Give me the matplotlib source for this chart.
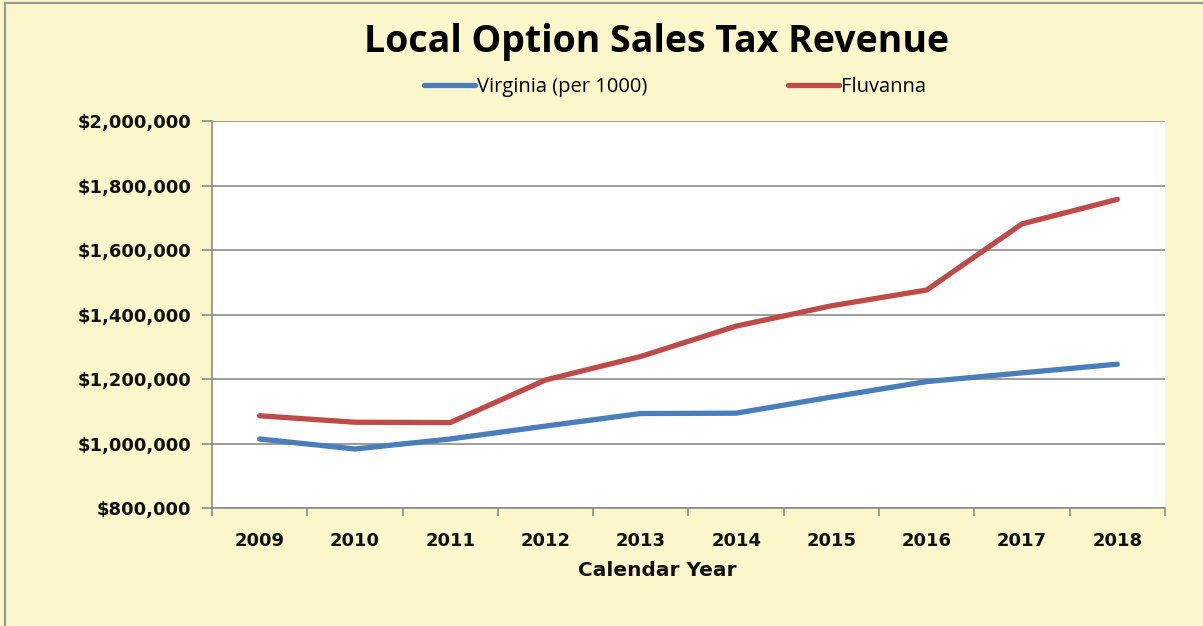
import numpy as np
import matplotlib
matplotlib.use('Agg')
import matplotlib.pyplot as plt
from matplotlib.ticker import FuncFormatter, FixedLocator
from matplotlib.patches import Rectangle

# Data
years = ['2009', '2010', '2011', '2012', '2013', '2014', '2015', '2016', '2017', '2018']
virginia = [1014000, 983000, 1014000, 1054000, 1093000, 1094000, 1144000, 1192000, 1219000, 1246000]
fluvanna = [1086000, 1066000, 1065000, 1197000, 1270000, 1364000, 1427000, 1476000, 1681000, 1757000]
y_ticks = [800000, 1000000, 1200000, 1400000, 1600000, 1800000, 2000000]

bg = '#FBF7CB'
blue = '#4A7EBB'
red = '#BE4B48'

fig = plt.figure(figsize=(12.03, 6.26), dpi=100, facecolor=bg)
ax = fig.add_axes([0.1762, 0.1885, 0.9684 - 0.1762, 0.8067 - 0.1885])
ax.set_facecolor('white')

# outer frame of the chart area
fig.patches.append(Rectangle((0.004, -0.02), 1.2, 1.015, transform=fig.transFigure,
                             fill=False, edgecolor='#9A9A9A', linewidth=1.5))

x = np.arange(len(years))
ax.plot(x, virginia, color=blue, lw=3.8, solid_capstyle='round', label='Virginia (per 1000)')
ax.plot(x, fluvanna, color=red, lw=3.8, solid_capstyle='round', label='Fluvanna')

ax.set_xlim(-0.5, len(years) - 0.5)
ax.set_ylim(y_ticks[0], y_ticks[-1])
ax.yaxis.set_major_locator(FixedLocator(y_ticks))
ax.yaxis.set_major_formatter(FuncFormatter(lambda v, p: '${:,.0f}'.format(v)))
ax.grid(axis='y', color='#8C8C8C', lw=1.2)
ax.set_axisbelow(True)

ax.set_xticks(x)
ax.set_xticklabels(years)
ax.set_xticks(np.arange(-0.5, len(years)), minor=True)
ax.tick_params(axis='x', which='major', length=0, pad=17)
ax.tick_params(axis='x', which='minor', length=6, color='#8C8C8C', width=1.2, direction='out')
ax.tick_params(axis='y', length=7, color='#8C8C8C', width=1.2, pad=8)

for s in ['top', 'right']:
    ax.spines[s].set_visible(False)
for s in ['left', 'bottom']:
    ax.spines[s].set_color('#8C8C8C')
    ax.spines[s].set_linewidth(1.2)

for lab in ax.get_xticklabels() + ax.get_yticklabels():
    lab.set_fontfamily('DejaVu Sans')
    lab.set_fontweight('bold')
    lab.set_fontsize(13)
    lab.set_color('#111111')

fig.text(657 / 1203, 1 - 570 / 626, 'Calendar Year', ha='center', va='center',
         fontfamily='DejaVu Sans', fontweight='bold', fontsize=14.5, color='#111111')

fig.text(657 / 1203, 1 - 42 / 626, 'Local Option Sales Tax Revenue', ha='center', va='center',
         fontfamily='Open Sans', fontweight='bold', fontsize=27, color='black')

leg = fig.legend(loc='center', bbox_to_anchor=(675 / 1203, 1 - 87 / 626), ncol=2, frameon=False,
                 handlelength=2.5, handletextpad=0.1, columnspacing=7.0,
                 prop={'family': 'Open Sans', 'size': 14.5})

fig.savefig('out.png', dpi=100, facecolor=bg)
